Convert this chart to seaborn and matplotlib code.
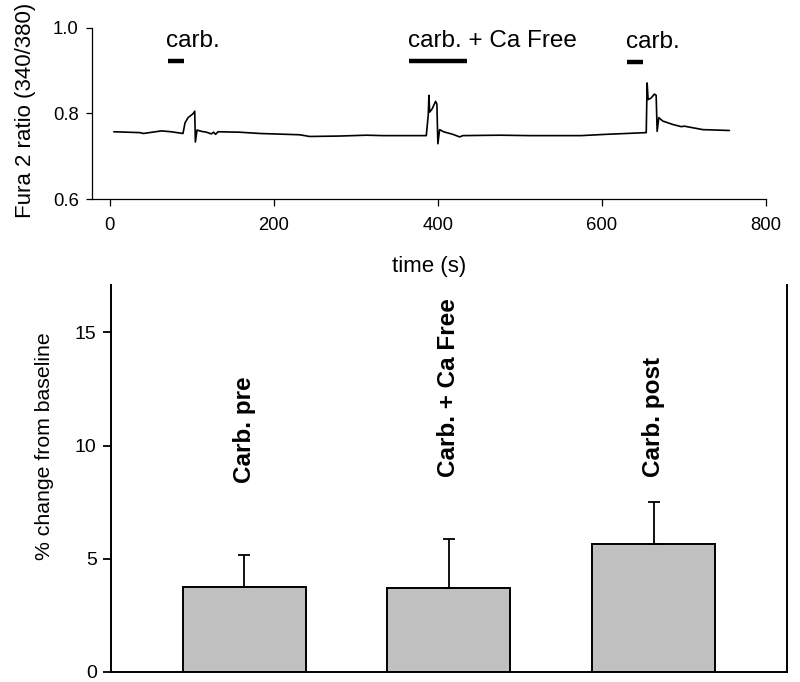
import matplotlib
matplotlib.use("Agg")
import matplotlib.pyplot as plt
import seaborn as sns
import pandas as pd

# ---------------- data ----------------
time_s = [5, 37, 41, 63, 75, 89.3, 91.8, 95.5, 101.5, 103.6,
          104.4, 106.4, 111.7, 117.8, 123.9, 126.7, 129, 132, 158, 183,
          231.5, 243.7, 280, 312.8, 333, 385.9, 388.3, 389.1, 390, 393.2,
          397.2, 398.8, 400, 402.1, 407, 418.3, 426.5, 430.5, 475, 511.8,
          574.7, 605, 654, 655.1, 656.3, 660, 664, 666.1, 667.3, 669.3,
          674.2, 686.4, 696.6, 700.6, 723, 755.4]
fura_ratio = [0.757, 0.755, 0.753, 0.759, 0.757, 0.753, 0.778, 0.790, 0.799, 0.805,
              0.733, 0.761, 0.758, 0.756, 0.752, 0.756, 0.751, 0.757, 0.756, 0.753,
              0.750, 0.746, 0.747, 0.749, 0.748, 0.748, 0.797, 0.842, 0.803, 0.811,
              0.828, 0.822, 0.729, 0.762, 0.757, 0.751, 0.745, 0.748, 0.749, 0.748,
              0.748, 0.751, 0.755, 0.871, 0.832, 0.836, 0.845, 0.842, 0.758, 0.790,
              0.782, 0.774, 0.769, 0.770, 0.762, 0.760]

stim_labels = ["carb.", "carb. + Ca Free", "carb."]
stim_start = [71, 365, 631]
stim_end = [91, 435, 650]

categories = ["Carb. pre", "Carb. + Ca Free", "Carb. post"]
pct_change = [3.76, 3.69, 5.64]
pct_sem = [1.40, 2.17, 1.88]

# ---------------- style ----------------
sns.set_style("ticks")
plt.rcParams["font.family"] = ["Liberation Sans", "DejaVu Sans"]
plt.rcParams["text.color"] = "black"
plt.rcParams["axes.labelcolor"] = "black"
plt.rcParams["xtick.color"] = "black"
plt.rcParams["ytick.color"] = "black"

fig = plt.figure(figsize=(8, 6.82), dpi=100)

# ---------------- top trace ----------------
ax1 = fig.add_axes([0.1146, 0.7082, 0.8429, 0.2512])
trace = pd.DataFrame({"t": time_s, "r": fura_ratio})
sns.lineplot(data=trace, x="t", y="r", ax=ax1, color="black", lw=1.2,
             estimator=None, sort=False)
ax1.set_xlim(-22, 800)
ax1.set_ylim(0.6, 1.0)
ax1.set_xticks([0, 200, 400, 600, 800])
ax1.set_yticks([0.6, 0.8, 1.0])
ax1.set_yticklabels(["0.6", "0.8", "1.0"])
for s in ["top", "right"]:
    ax1.spines[s].set_visible(False)
for s in ["left", "bottom"]:
    ax1.spines[s].set_linewidth(0.9)
    ax1.spines[s].set_color("black")
ax1.tick_params(axis="x", direction="out", length=5, width=0.9, pad=8,
                labelsize=13.3, colors="black")
ax1.tick_params(axis="y", direction="out", length=4.3, width=0.9, pad=5,
                labelsize=13.3, colors="black")
ax1.set_xlabel("time (s)", fontsize=16)
ax1.set_ylabel("Fura 2 ratio (340/380)", fontsize=16)
ax1.xaxis.set_label_coords(0.5, -0.335)
ax1.yaxis.set_label_coords(-0.082, 0.52)

for lab, t0, t1, yb, yt in zip(stim_labels, stim_start, stim_end,
                               [0.922, 0.922, 0.920], [0.956, 0.956, 0.952]):
    ax1.plot([t0, t1], [yb, yb], color="black", lw=3.2, solid_capstyle="butt")
    ax1.text(t0 - 2, yt, lab, fontsize=17.5, ha="left", va="baseline",
             color="black")

# ---------------- bottom bars ----------------
ax2 = fig.add_axes([0.13875, 0.0151, 0.8446, 0.5670])
bars = pd.DataFrame({"cond": categories, "val": pct_change})
sns.barplot(data=bars, x="cond", y="val", ax=ax2, color="#c0c0c0",
            edgecolor="black", linewidth=1.4, width=0.6, saturation=1,
            errorbar=None)
ax2.errorbar(range(len(categories)), pct_change,
             yerr=[[0] * len(pct_sem), pct_sem], fmt="none",
             ecolor="black", elinewidth=1.3, capsize=4, capthick=1.3)
ax2.set_xlim(-0.65, 2.65)
ax2.set_ylim(0, 17.1)
ax2.set_yticks([0, 5, 10, 15])
ax2.set_xticks([])
ax2.set_xlabel("")
ax2.spines["top"].set_visible(False)
for s in ["left", "right", "bottom"]:
    ax2.spines[s].set_linewidth(1.4)
    ax2.spines[s].set_color("black")
ax2.tick_params(axis="y", direction="out", length=5.5, width=1.3, pad=4.8,
                labelsize=14, colors="black")
ax2.set_ylabel("% change from baseline", fontsize=15.3)
ax2.yaxis.set_label_coords(-0.084, 0.584)

for i, (lab, ly) in enumerate(zip(categories, [8.35, 8.6, 8.6])):
    ax2.text(i, ly, lab, rotation=90, ha="center", va="bottom",
             fontsize=17.5, fontweight="bold", color="black")

fig.savefig("out.png", dpi=100)
